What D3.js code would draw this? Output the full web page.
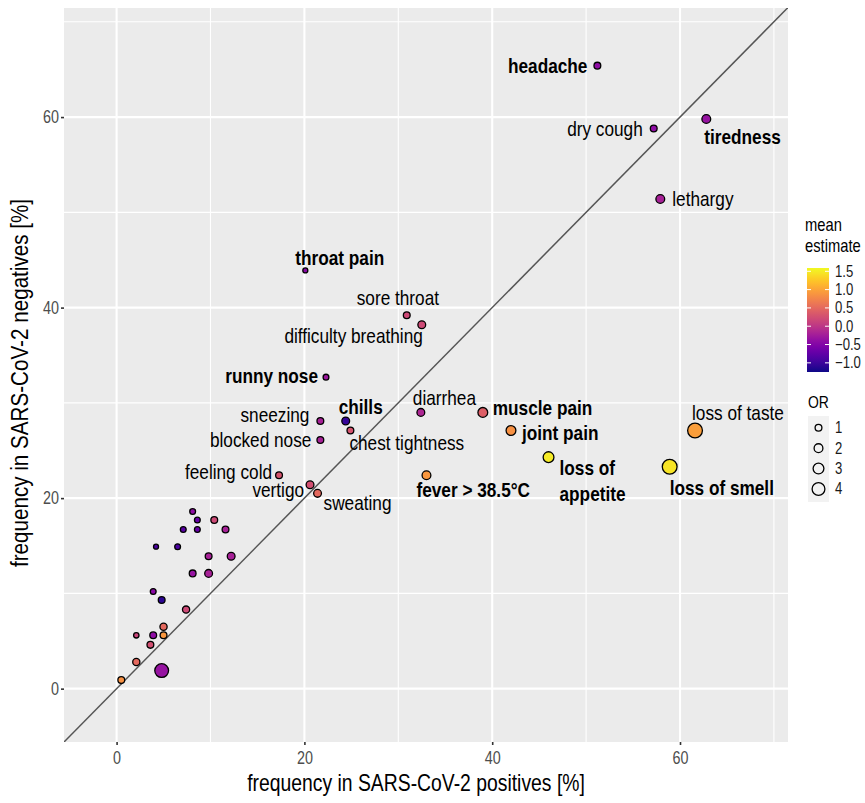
<!DOCTYPE html>
<html>
<head>
<meta charset="utf-8">
<script src="https://cdn.jsdelivr.net/npm/d3@7"></script>
<style>
  body { margin: 0; background: #fff; }
  svg { font-family: "Liberation Sans", Arial, sans-serif; }
</style>
</head>
<body>
<div class="chartContainer"></div>
<script>
// Symptoms ("" = unlabeled point)
const symptoms = [
  "headache", "dry cough", "tiredness", "lethargy", "throat pain", "sore throat",
  "difficulty breathing", "runny nose", "diarrhea", "muscle pain", "joint pain",
  "loss of taste", "loss of appetite", "loss of smell", "sneezing", "chills",
  "chest tightness", "blocked nose", "feeling cold", "vertigo", "sweating", "fever > 38.5°C",
  "", "", "", "", "", "", "", "", "", "", "", "", "", "", "", "", "", "", "", "", "", "", ""
];
// frequency in SARS-CoV-2 positives [%]
const freqPos = [
  51.2, 57.2, 62.8, 57.9, 20.1, 30.9,
  32.5, 22.3, 32.4, 39.0, 42.0,
  61.6, 46.0, 58.9, 21.7, 24.4,
  24.9, 21.7, 17.3, 20.6, 21.4, 33.0,
  8.1, 8.6, 10.4, 7.1, 8.6, 11.6, 4.2, 6.5, 9.8, 12.2, 8.1, 9.8,
  3.9, 4.8, 7.4, 5.0, 2.1, 3.9, 5.0, 3.6, 2.1, 4.8, 0.5
];
// frequency in SARS-CoV-2 negatives [%]
const freqNeg = [
  65.4, 58.8, 59.8, 51.4, 43.9, 39.2,
  38.2, 32.7, 29.0, 29.0, 27.1,
  27.1, 24.3, 23.3, 28.1, 28.1,
  27.1, 26.1, 22.4, 21.4, 20.5, 22.4,
  18.6, 17.7, 17.7, 16.7, 16.7, 16.7, 14.9, 14.9, 13.9, 13.9, 12.1, 12.1,
  10.2, 9.3, 8.3, 6.5, 5.6, 5.6, 5.6, 4.6, 2.8, 1.9, 0.9
];
// mean estimate
const meanEst = [
  -0.4, -0.4, -0.35, -0.2, -0.45, 0.2,
  0.2, -0.3, -0.15, 0.4, 0.85,
  0.95, 1.5, 1.45, -0.2, -1.05,
  0.3, -0.2, 0.3, 0.25, 0.5, 0.9,
  -0.4, -0.7, 0.2, -0.8, -0.7, -0.2, -0.9, -0.9, -0.2, -0.2, -0.35, -0.2,
  -0.45, -1.1, 0.2, 0.5, 0.15, -0.4, 0.9, 0.25, 0.5, -0.35, 0.85
];
// odds ratio
const oddsRatio = [
  1.0, 1.0, 2.0, 2.0, 0.1, 1.0,
  1.5, 0.5, 1.5, 2.5, 2.5,
  5.0, 3.0, 5.0, 1.0, 1.5,
  1.0, 1.0, 1.0, 1.5, 1.5, 2.0,
  0.5, 0.5, 1.0, 0.5, 0.5, 1.0, 0.1, 0.5, 1.0, 1.5, 1.0, 1.5,
  0.5, 1.0, 1.2, 1.2, 0.3, 1.0, 1.0, 1.0, 1.2, 4.5, 1.0
];
const significant = [
  "headache", "tiredness", "throat pain", "runny nose", "chills", "muscle pain",
  "joint pain", "loss of appetite", "loss of smell", "fever > 38.5°C"
];
const axisTicks = [0, 20, 40, 60];
const minorTicks = [10, 30, 50, 70];
const colorTicks = [1.5, 1.0, 0.5, 0.0, -0.5, -1.0];
const sizeTicks = [1, 2, 3, 4];

// label placement (offset from point, anchor)
const labelNudge = {
  "headache": [-10, 0, "end"],
  "dry cough": [-11, 0, "end"],
  "tiredness": [-2, 18, "start"],
  "lethargy": [12, 0, "start"],
  "throat pain": [-10, -13, "start"],
  "sore throat": [-50, -17, "start"],
  "difficulty breathing": [1, 11, "end"],
  "runny nose": [-8, -1, "end"],
  "sneezing": [-11, -6, "end"],
  "chills": [-7, -14, "start"],
  "blocked nose": [-9, 0, "end"],
  "chest tightness": [-1, 12, "start"],
  "feeling cold": [-7, -3, "end"],
  "vertigo": [-6, 5, "end"],
  "sweating": [6, 10, "start"],
  "diarrhea": [-8, -14, "start"],
  "fever > 38.5°C": [-10, 15, "start"],
  "muscle pain": [10, -4, "start"],
  "joint pain": [11, 2, "start"],
  "loss of appetite": [11, 10, "start"],
  "loss of smell": [0, 21, "start"],
  "loss of taste": [-3, -18, "start"]
};

const W = 865, H = 803;
const P = { left: 64, right: 788, top: 8, bottom: 742 };
const NARROW = 0.82; // the figure uses a condensed face

const data = symptoms.map((s, i) => ({
  name: s, x: freqPos[i], y: freqNeg[i], est: meanEst[i], or: oddsRatio[i]
}));

const x = d3.scaleLinear().domain([-5.6, 71.5]).range([P.left, P.right]);
const y = d3.scaleLinear().domain([-5.6, 71.45]).range([P.bottom, P.top]);
const color = d3.scaleSequential(d3.interpolatePlasma).domain([-1.25, 1.59]);
const size = d3.scaleLinear().domain([1, 4]).range([3.4, 6.4]);

// squeeze text horizontally around its anchor point
function narrow(sel, k) {
  sel.each(function () {
    const t = d3.select(this);
    const x0 = +t.attr("x") || 0, y0 = +t.attr("y") || 0;
    t.attr("x", null).attr("y", null)
      .attr("transform", `translate(${x0},${y0}) scale(${k || NARROW},1)`);
  });
}

const svg = d3.select(".chartContainer").append("svg")
  .attr("width", W).attr("height", H);

// panel
svg.append("rect")
  .attr("x", P.left).attr("y", P.top)
  .attr("width", P.right - P.left).attr("height", P.bottom - P.top)
  .attr("fill", "#ebebeb");

const grid = svg.append("g");
minorTicks.forEach((t) => {
  grid.append("line").attr("x1", x(t)).attr("x2", x(t)).attr("y1", P.top).attr("y2", P.bottom)
    .attr("stroke", "#fff").attr("stroke-width", 1.1);
  grid.append("line").attr("y1", y(t)).attr("y2", y(t)).attr("x1", P.left).attr("x2", P.right)
    .attr("stroke", "#fff").attr("stroke-width", 1.1);
});
axisTicks.forEach((t) => {
  grid.append("line").attr("x1", x(t)).attr("x2", x(t)).attr("y1", P.top).attr("y2", P.bottom)
    .attr("stroke", "#fff").attr("stroke-width", 2.1);
  grid.append("line").attr("y1", y(t)).attr("y2", y(t)).attr("x1", P.left).attr("x2", P.right)
    .attr("stroke", "#fff").attr("stroke-width", 2.1);
});

// axes
const xAxis = svg.append("g").attr("transform", `translate(0,${P.bottom})`)
  .call(d3.axisBottom(x).tickValues(axisTicks).tickSize(3).tickPadding(6.5));
const yAxis = svg.append("g").attr("transform", `translate(${P.left},0)`)
  .call(d3.axisLeft(y).tickValues(axisTicks).tickSize(3).tickPadding(2));
[xAxis, yAxis].forEach((a) => {
  a.select(".domain").remove();
  a.selectAll("line").attr("stroke", "#333").attr("stroke-width", 1.6);
  a.selectAll("text").attr("fill", "#4d4d4d").style("font-size", "17.5px")
    .style("font-family", "'Liberation Sans', Arial, sans-serif");
  narrow(a.selectAll("text"));
});

const xTitle = svg.append("text").attr("x", 416).attr("y", 790.5).attr("text-anchor", "middle")
  .style("font-size", "23.6px").text("frequency in SARS-CoV-2 positives [%]");
narrow(xTitle);
svg.append("text").attr("transform", "translate(28,383) rotate(-90) scale(0.86,1)")
  .attr("text-anchor", "middle")
  .style("font-size", "24px").text("frequency in SARS-CoV-2 negatives [%]");

// clip to panel
svg.append("clipPath").attr("id", "panel").append("rect")
  .attr("x", P.left).attr("y", P.top)
  .attr("width", P.right - P.left).attr("height", P.bottom - P.top);

// y = x line
svg.append("line").attr("clip-path", "url(#panel)")
  .attr("x1", x(-5.6)).attr("y1", y(-5.6)).attr("x2", x(71.5)).attr("y2", y(71.5))
  .attr("stroke", "#555").attr("stroke-width", 1.5);

// points
svg.append("g").selectAll("circle").data(data).enter().append("circle")
  .attr("cx", (d) => x(d.x)).attr("cy", (d) => y(d.y))
  .attr("r", (d) => size(d.or))
  .attr("fill", (d) => color(d.est))
  .attr("stroke", "#000").attr("stroke-width", 1.3);

// labels
const labels = svg.append("g").selectAll("text")
  .data(data.filter((d) => d.name !== "")).enter().append("text")
  .attr("transform", (d) =>
    `translate(${x(d.x) + labelNudge[d.name][0]},${y(d.y) + labelNudge[d.name][1]}) scale(${NARROW},1)`)
  .attr("text-anchor", (d) => labelNudge[d.name][2])
  .attr("dominant-baseline", "central")
  .style("font-size", "21px")
  .style("font-weight", (d) => (significant.includes(d.name) ? "bold" : "normal"))
  .attr("fill", "#000");
labels.each(function (d) {
  const t = d3.select(this);
  if (d.name === "loss of appetite") {
    t.append("tspan").attr("x", 0).text("loss of");
    t.append("tspan").attr("x", 0).attr("dy", 26).text("appetite");
  } else {
    t.text(d.name);
  }
});

// colour legend
const lg = svg.append("g");
narrow(lg.append("text").attr("x", 805).attr("y", 231).style("font-size", "18px").text("mean"));
narrow(lg.append("text").attr("x", 805).attr("y", 252).style("font-size", "18px").text("estimate"));
const barTop = 268, barBot = 372, barX = 807, barW = 22;
const cb = d3.scaleLinear().domain(color.domain()).range([barBot, barTop]);
const grad = svg.append("defs").append("linearGradient").attr("id", "plasma")
  .attr("x1", 0).attr("y1", 1).attr("x2", 0).attr("y2", 0);
d3.range(0, 1.0001, 0.05).forEach((t) => {
  grad.append("stop").attr("offset", t).attr("stop-color", d3.interpolatePlasma(t));
});
lg.append("rect").attr("x", barX).attr("y", barTop).attr("width", barW)
  .attr("height", barBot - barTop).attr("fill", "url(#plasma)");
colorTicks.forEach((v) => {
  lg.append("line").attr("x1", barX).attr("x2", barX + 4).attr("y1", cb(v)).attr("y2", cb(v))
    .attr("stroke", "#fff").attr("stroke-width", 1);
  lg.append("line").attr("x1", barX + barW - 4).attr("x2", barX + barW).attr("y1", cb(v)).attr("y2", cb(v))
    .attr("stroke", "#fff").attr("stroke-width", 1);
  narrow(lg.append("text").attr("x", 835).attr("y", cb(v)).attr("dominant-baseline", "central")
    .style("font-size", "16px").attr("fill", "#1a1a1a").text(d3.format(".1f")(v)));
});

// size legend
narrow(lg.append("text").attr("x", 808).attr("y", 408).style("font-size", "17px").text("OR"));
const keyY = d3.scaleLinear().domain([1, 4]).range([427.7, 489]);
lg.append("rect").attr("x", 808).attr("y", 416).attr("width", 21).attr("height", 86)
  .attr("fill", "#f2f2f2");
sizeTicks.forEach((v) => {
  lg.append("circle").attr("cx", 818.5).attr("cy", keyY(v)).attr("r", size(v))
    .attr("fill", "none").attr("stroke", "#000").attr("stroke-width", 1.3);
  narrow(lg.append("text").attr("x", 835).attr("y", keyY(v)).attr("dominant-baseline", "central")
    .style("font-size", "16px").attr("fill", "#1a1a1a").text(v));
});
</script>
</body>
</html>
